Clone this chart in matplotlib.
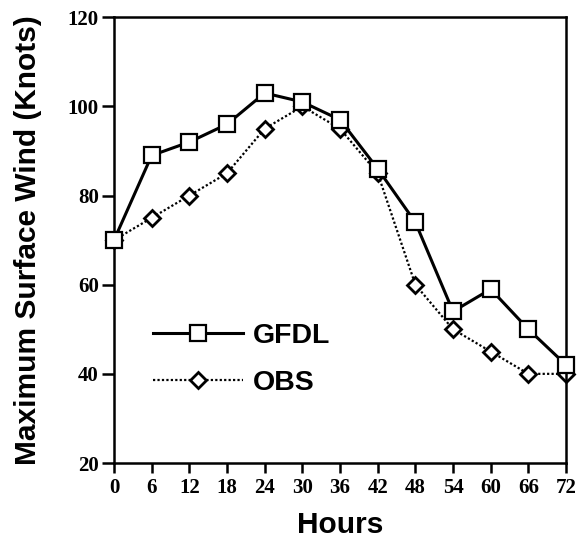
import matplotlib
matplotlib.use("Agg")
import matplotlib.pyplot as plt

hours = [0, 6, 12, 18, 24, 30, 36, 42, 48, 54, 60, 66, 72]
gfdl = [70, 89, 92, 96, 103, 101, 97, 86, 74, 54, 59, 50, 42]
obs = [70, 75, 80, 85, 95, 100, 95, 85, 60, 50, 45, 40, 40]
yticks = [20, 40, 60, 80, 100, 120]

fig = plt.figure(figsize=(5.77, 5.39), dpi=100)
ax = fig.add_axes([0.1976, 0.141, 0.7834, 0.827])

ax.plot(hours, gfdl, '-', color='black', lw=2.2, marker='s', ms=12,
        mfc='white', mec='black', mew=1.6, label='GFDL', zorder=3, clip_on=False)
ax.plot(hours, obs, linestyle=(0, (1, 1)), color='black', lw=1.6, marker='D', ms=8,
        mfc='white', mec='black', mew=2.0, label='OBS', zorder=2, clip_on=False)

ax.set_xlim(0, 72)
ax.set_ylim(20, 120)
ax.set_xticks(hours)
ax.set_yticks(yticks)
ax.tick_params(direction='out', width=1.8, top=False, right=False, labelsize=15)
ax.tick_params(axis='x', length=7.5, pad=3)
ax.tick_params(axis='y', length=9, pad=2)
for lab in ax.get_xticklabels() + ax.get_yticklabels():
    lab.set_family('Liberation Serif')
    lab.set_fontweight('bold')
for s in ax.spines.values():
    s.set_linewidth(1.8)

ax.set_xlabel('Hours', fontsize=21.5, family='Liberation Sans', fontweight='bold')
ax.set_ylabel('Maximum Surface Wind (Knots)', fontsize=21.5, family='Liberation Sans',
              fontweight='bold')
ax.xaxis.set_label_coords(0.5, -0.108)
ax.yaxis.set_label_coords(-0.16, 0.5)

leg = ax.legend(loc='center left', bbox_to_anchor=(0.086, 0.232), frameon=False,
                handlelength=3.15, borderpad=0, borderaxespad=0,
                prop={'family': 'Liberation Sans', 'size': 20.5, 'weight': 'bold'},
                labelspacing=0.74, handletextpad=0.35)

fig.savefig('out.png', dpi=100)
